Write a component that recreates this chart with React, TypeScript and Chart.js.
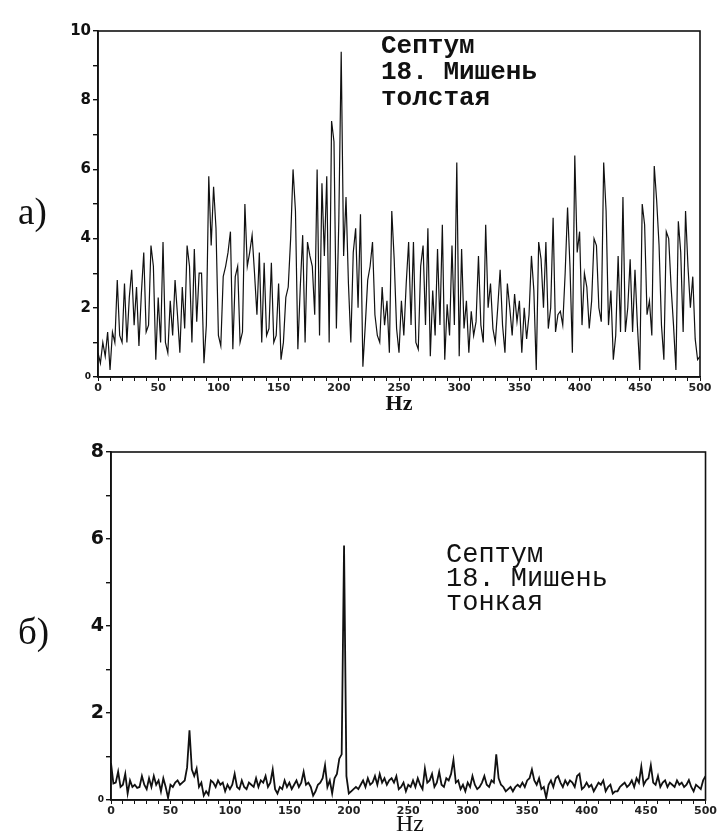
import React, { useEffect, useRef } from "react";
import { Chart, registerables } from "chart.js";

Chart.register(...registerables);

// ---------- data ----------
const STEP_HZ = 2; // spectral line spacing, Hz
const X_MIN = 0;
const X_MAX = 500;
const X_LABEL_EVERY = 50;

// а) толстая мишень: amplitude every 2 Hz from 0 to 500 Hz
const TOP_VALUES = [
  0.7, 0.4, 1.0, 0.6, 1.3, 0.2, 1.3, 1.0, 2.8, 1.2, // 0-18
  1.0, 2.7, 1.0, 2.3, 3.1, 1.5, 2.6, 0.9, 2.4, 3.6, // 20-38
  1.3, 1.5, 3.8, 3.2, 0.5, 2.3, 1.0, 3.9, 1.0, 0.7, // 40-58
  2.2, 1.2, 2.8, 1.8, 0.7, 2.6, 1.4, 3.8, 3.2, 1.0, // 60-78
  3.7, 1.6, 3.0, 3.0, 0.4, 1.5, 5.8, 3.8, 5.5, 4.3, // 80-98
  1.2, 0.9, 2.9, 3.2, 3.6, 4.2, 0.8, 2.9, 3.2, 1.0, // 100-118
  1.3, 5.0, 3.2, 3.6, 4.1, 3.0, 1.8, 3.6, 1.0, 3.3, // 120-138
  1.2, 1.4, 3.3, 1.0, 1.2, 2.7, 0.5, 1.0, 2.3, 2.6, // 140-158
  4.0, 6.0, 4.8, 0.8, 2.6, 4.1, 1.0, 3.9, 3.5, 3.2, // 160-178
  1.8, 6.0, 1.2, 5.6, 3.5, 5.8, 1.0, 7.4, 6.8, 1.4, // 180-198
  4.5, 9.4, 3.5, 5.2, 2.7, 1.0, 3.6, 4.3, 2.0, 4.7, // 200-218
  0.3, 1.5, 2.8, 3.2, 3.9, 1.8, 1.2, 1.0, 2.6, 1.5, // 220-238
  2.2, 0.7, 4.8, 3.4, 1.4, 0.7, 2.2, 1.2, 2.7, 3.9, // 240-258
  1.5, 3.9, 1.0, 0.8, 3.2, 3.8, 1.5, 4.3, 0.6, 2.5, // 260-278
  1.2, 3.7, 1.5, 4.4, 0.5, 2.1, 1.2, 3.8, 1.5, 6.2, // 280-298
  0.6, 3.7, 1.4, 2.2, 0.7, 1.9, 1.2, 1.6, 3.5, 1.5, // 300-318
  1.0, 4.4, 2.0, 2.7, 1.4, 1.0, 2.0, 3.1, 1.5, 0.7, // 320-338
  2.7, 2.0, 1.2, 2.4, 1.6, 2.2, 0.7, 2.0, 1.1, 1.8, // 340-358
  3.5, 2.5, 0.2, 3.9, 3.4, 2.0, 3.9, 1.4, 2.0, 4.6, // 360-378
  1.3, 1.8, 1.9, 1.5, 3.0, 4.9, 3.2, 0.7, 6.4, 3.6, // 380-398
  4.2, 1.5, 3.0, 2.6, 1.4, 2.2, 4.0, 3.8, 2.0, 1.6, // 400-418
  6.2, 4.8, 1.5, 2.5, 0.5, 1.2, 3.5, 1.3, 5.2, 1.3, // 420-438
  2.0, 3.4, 1.3, 3.1, 1.5, 0.2, 5.0, 4.4, 1.8, 2.2, // 440-458
  1.2, 6.1, 5.1, 3.8, 1.5, 0.5, 4.2, 4.0, 2.6, 1.5, // 460-478
  0.2, 4.5, 3.6, 1.3, 4.8, 3.2, 2.0, 2.9, 1.1, 0.5, // 480-498
  0.6, // 500
];

// б) тонкая мишень: amplitude every 2 Hz from 0 to 500 Hz
const BOTTOM_VALUES = [
  0.85, 0.38, 0.4, 0.65, 0.3, 0.35, 0.6, 0.15, 0.45, 0.3, // 0-18
  0.35, 0.28, 0.3, 0.55, 0.35, 0.25, 0.5, 0.3, 0.55, 0.35, // 20-38
  0.45, 0.2, 0.5, 0.3, 0.05, 0.35, 0.3, 0.4, 0.45, 0.35, // 40-58
  0.4, 0.45, 0.75, 1.6, 0.7, 0.55, 0.72, 0.3, 0.4, 0.1, // 60-78
  0.2, 0.12, 0.45, 0.4, 0.3, 0.45, 0.35, 0.4, 0.2, 0.35, // 80-98
  0.25, 0.35, 0.6, 0.3, 0.25, 0.45, 0.3, 0.25, 0.4, 0.35, // 100-118
  0.3, 0.5, 0.3, 0.45, 0.4, 0.55, 0.3, 0.4, 0.7, 0.25, // 120-138
  0.15, 0.3, 0.25, 0.45, 0.3, 0.4, 0.25, 0.35, 0.45, 0.3, // 140-158
  0.4, 0.65, 0.35, 0.4, 0.3, 0.1, 0.2, 0.35, 0.4, 0.5, // 160-178
  0.8, 0.3, 0.45, 0.15, 0.5, 0.6, 0.95, 1.05, 5.85, 0.55, // 180-198
  0.15, 0.2, 0.25, 0.3, 0.25, 0.35, 0.45, 0.3, 0.5, 0.35, // 200-218
  0.4, 0.55, 0.35, 0.6, 0.4, 0.5, 0.35, 0.45, 0.5, 0.4, // 220-238
  0.55, 0.25, 0.3, 0.4, 0.2, 0.35, 0.3, 0.45, 0.3, 0.5, // 240-258
  0.35, 0.25, 0.72, 0.4, 0.45, 0.6, 0.3, 0.4, 0.65, 0.35, // 260-278
  0.3, 0.5, 0.45, 0.6, 0.92, 0.4, 0.45, 0.25, 0.35, 0.2, // 280-298
  0.4, 0.3, 0.55, 0.35, 0.25, 0.3, 0.4, 0.55, 0.35, 0.3, // 300-318
  0.45, 0.4, 1.05, 0.5, 0.35, 0.3, 0.2, 0.25, 0.3, 0.2, // 320-338
  0.3, 0.35, 0.3, 0.4, 0.3, 0.45, 0.5, 0.7, 0.45, 0.35, // 340-358
  0.5, 0.25, 0.3, 0.05, 0.35, 0.45, 0.3, 0.5, 0.55, 0.4, // 360-378
  0.3, 0.45, 0.35, 0.45, 0.4, 0.3, 0.55, 0.6, 0.25, 0.3, // 380-398
  0.4, 0.3, 0.35, 0.2, 0.3, 0.4, 0.35, 0.45, 0.2, 0.3, // 400-418
  0.35, 0.15, 0.2, 0.2, 0.3, 0.35, 0.4, 0.3, 0.35, 0.45, // 420-438
  0.3, 0.5, 0.4, 0.77, 0.35, 0.45, 0.5, 0.8, 0.4, 0.35, // 440-458
  0.55, 0.3, 0.4, 0.45, 0.3, 0.4, 0.35, 0.3, 0.45, 0.35, // 460-478
  0.4, 0.3, 0.35, 0.46, 0.3, 0.2, 0.35, 0.3, 0.25, 0.45, // 480-498
  0.55, // 500
];

const TOP_Y_MAX = 10;
const BOTTOM_Y_MAX = 8;
const TOP_NOTE = ["Септум", "18. Мишень", "толстая"];
const BOTTOM_NOTE = ["Септум", "18. Мишень", "тонкая"];
const PANEL_LABELS = ["а)", "б)"];
const X_TITLE = "Hz";

// ---------- helpers ----------
function toPoints(values: number[]) {
  return values.map((v, i) => ({ x: i * STEP_HZ, y: v }));
}

const framePlugin = {
  id: "frame",
  afterDraw(chart: any) {
    const { ctx, chartArea: a } = chart;
    ctx.save();
    ctx.strokeStyle = "#111";
    ctx.lineWidth = 1.6;
    ctx.strokeRect(a.left, a.top, a.right - a.left, a.bottom - a.top);
    ctx.restore();
  },
};

type PanelOpts = {
  values: number[];
  yMax: number;
  yAxisWidth: number;
  xAxisHeight: number;
  padTop: number;
  padRight: number;
  yFont: number;
  xFont: number;
  lineWidth: number;
};

function makeConfig(o: PanelOpts): any {
  return {
    type: "line",
    data: {
      datasets: [
        {
          data: toPoints(o.values),
          borderColor: "#111",
          borderWidth: o.lineWidth,
          pointRadius: 0,
          tension: 0,
          fill: false,
        },
      ],
    },
    plugins: [framePlugin],
    options: {
      animation: false,
      responsive: false,
      devicePixelRatio: 1,
      parsing: false,
      layout: { padding: { top: o.padTop, right: o.padRight, left: 0, bottom: 0 } },
      plugins: { legend: { display: false }, tooltip: { enabled: false } },
      scales: {
        x: {
          type: "linear",
          min: X_MIN,
          max: X_MAX,
          afterFit: (s: any) => {
            s.height = o.xAxisHeight;
          },
          border: { display: true, color: "#111", width: 1.6 },
          grid: { drawOnChartArea: false, drawTicks: true, tickLength: 4, color: "#111", lineWidth: 1 },
          ticks: {
            stepSize: 10,
            autoSkip: false,
            maxRotation: 0,
            padding: 1,
            color: "#222",
            font: { family: "DejaVu Sans", size: o.xFont, weight: "bold" },
            callback: (v: any) => (Number(v) % X_LABEL_EVERY === 0 ? String(v) : ""),
          },
        },
        y: {
          type: "linear",
          min: 0,
          max: o.yMax,
          afterFit: (s: any) => {
            s.width = o.yAxisWidth;
          },
          border: { display: true, color: "#111", width: 1.6 },
          grid: { drawOnChartArea: false, drawTicks: true, tickLength: 5, color: "#111", lineWidth: 1.4 },
          ticks: {
            stepSize: 1,
            autoSkip: false,
            padding: 2,
            color: "#111",
            font: (ctx: any) =>
              ctx.tick && ctx.tick.value === 0
                ? { family: "DejaVu Sans", size: 9, weight: "bold" }
                : { family: "DejaVu Sans", size: o.yFont, weight: "bold" },
            callback: (v: any) => (Number(v) % 2 === 0 ? String(v) : ""),
          },
        },
      },
    },
  };
}

function Panel(props: { top: number; height: number; opts: PanelOpts }) {
  const ref = useRef<HTMLCanvasElement | null>(null);
  useEffect(() => {
    if (!ref.current) return;
    const chart = new Chart(ref.current, makeConfig(props.opts));
    return () => chart.destroy();
  }, []);
  return (
    <canvas
      ref={ref}
      width={718}
      height={props.height}
      style={{ position: "absolute", left: 0, top: props.top, width: 718, height: props.height }}
    />
  );
}

const abs = (s: any) => ({ position: "absolute" as const, margin: 0, whiteSpace: "pre" as const, color: "#111", ...s });

export default function App() {
  return (
    <div style={{ position: "fixed", left: 0, top: 0, width: 718, height: 834, background: "#fff", overflow: "hidden" }}>
      <Panel
        top={0}
        height={420}
        opts={{
          values: TOP_VALUES,
          yMax: TOP_Y_MAX,
          yAxisWidth: 98,
          xAxisHeight: 43,
          padTop: 31,
          padRight: 18,
          yFont: 15,
          xFont: 11,
          lineWidth: 1.2,
        }}
      />
      <Panel
        top={420}
        height={414}
        opts={{
          values: BOTTOM_VALUES,
          yMax: BOTTOM_Y_MAX,
          yAxisWidth: 111,
          xAxisHeight: 34,
          padTop: 32,
          padRight: 12,
          yFont: 19,
          xFont: 11,
          lineWidth: 1.8,
        }}
      />

      {/* panel labels */}
      <div style={abs({ left: 18, top: 190, font: "37px 'Liberation Serif', serif", lineHeight: "44px" })}>{PANEL_LABELS[0]}</div>
      <div style={abs({ left: 18, top: 610, font: "37px 'Liberation Serif', serif", lineHeight: "44px" })}>{PANEL_LABELS[1]}</div>

      {/* annotations */}
      <div style={abs({ left: 381, top: 33, font: "bold 26px 'Liberation Mono', monospace", lineHeight: "26px" })}>
        {TOP_NOTE.join("\n")}
      </div>
      <div style={abs({ left: 446, top: 543, font: "27px 'Liberation Mono', monospace", lineHeight: "24px" })}>
        {BOTTOM_NOTE.join("\n")}
      </div>

      {/* axis titles */}
      <div style={abs({ left: 349, width: 100, top: 392, textAlign: "center", font: "bold 22px 'Liberation Serif', serif", lineHeight: "22px" })}>
        {X_TITLE}
      </div>
      <div style={abs({ left: 360, width: 100, top: 811, textAlign: "center", font: "24px 'Liberation Serif', serif", lineHeight: "24px" })}>
        {X_TITLE}
      </div>
    </div>
  );
}
